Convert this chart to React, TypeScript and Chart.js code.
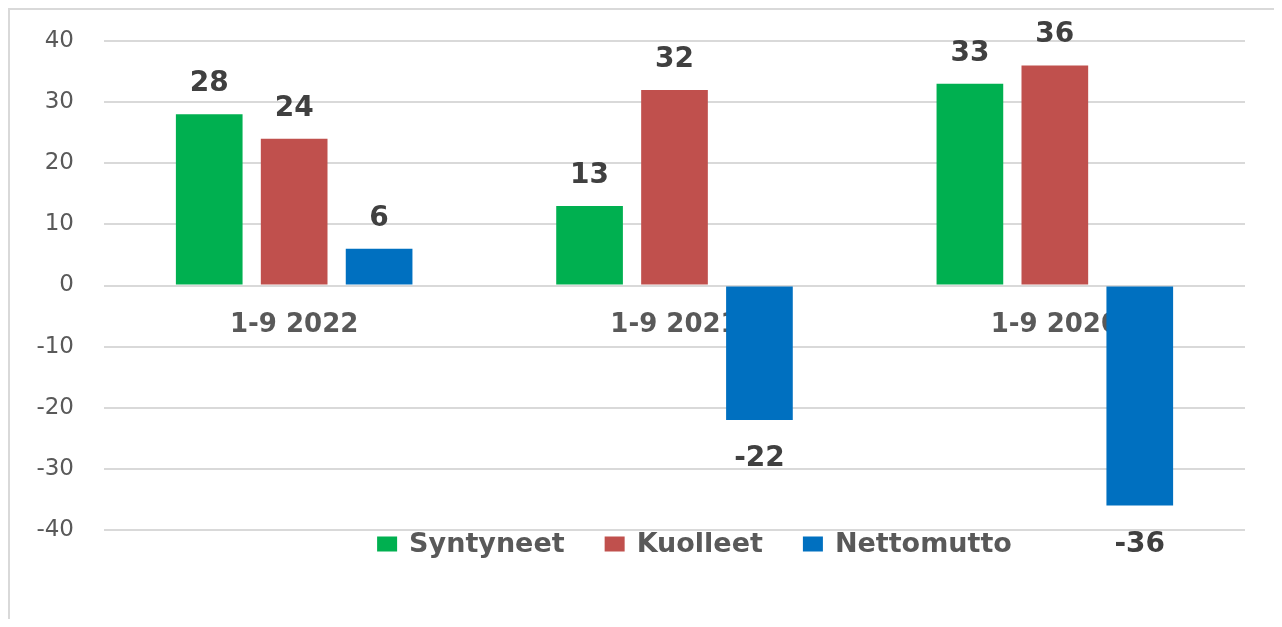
import React, { useEffect, useRef } from "react";
import { Chart, registerables } from "chart.js";

Chart.register(...registerables);

const categories = ["1-9 2022", "1-9 2021", "1-9 2020"];
const syntyneet = [28, 13, 33];
const kuolleet = [24, 32, 36];
const nettomutto = [6, -22, -36];
const seriesNames = ["Syntyneet", "Kuolleet", "Nettomutto"];
const seriesColors = ["#00b050", "#c0504d", "#0070c0"];
const yMin = -40;
const yMax = 40;
const yStep = 10;

const FONT = "'DejaVu Sans', sans-serif";

// Category labels drawn next to the zero line (below it), under the bars
const categoryLabelsPlugin = {
  id: "categoryLabels",
  beforeDatasetsDraw(chart: any) {
    const ctx = chart.ctx;
    const xs = chart.scales.x;
    const ys = chart.scales.y;
    const y0 = ys.getPixelForValue(0);
    ctx.save();
    ctx.font = `bold 26px ${FONT}`;
    ctx.fillStyle = "#595959";
    ctx.textAlign = "center";
    ctx.textBaseline = "middle";
    (chart.data.labels as string[]).forEach((lab, i) => {
      ctx.fillText(lab, xs.getPixelForValue(i), y0 + 40);
    });
    ctx.restore();
  },
};

const labelsPlugin = {
  id: "valueLabels",
  afterDatasetsDraw(chart: any) {
    const ctx = chart.ctx;
    ctx.save();
    ctx.font = `bold 28px ${FONT}`;
    ctx.fillStyle = "#404040";
    ctx.textAlign = "center";
    ctx.textBaseline = "alphabetic";
    chart.data.datasets.forEach((ds: any, di: number) => {
      const meta = chart.getDatasetMeta(di);
      meta.data.forEach((el: any, i: number) => {
        const v = ds.data[i];
        const y = v >= 0 ? el.y - 23 : el.y + 46;
        ctx.fillText(String(v), el.x, y);
      });
    });
    ctx.restore();
  },
};

const legendPlugin = {
  id: "customLegend",
  afterDraw(chart: any) {
    const ctx = chart.ctx;
    const area = chart.chartArea;
    ctx.save();
    ctx.font = `bold 27px ${FONT}`;
    const box = 20;
    const boxH = 15;
    const gapText = 12;
    const gapItem = 40;
    const items = chart.data.datasets.map((ds: any) => ({
      label: ds.label,
      color: ds.backgroundColor,
      w: box + gapText + ctx.measureText(ds.label).width,
    }));
    const total = items.reduce((s: number, it: any) => s + it.w, 0) + gapItem * (items.length - 1);
    let x = (area.left + area.right) / 2 + 20 - total / 2;
    const cy = area.bottom + 14;
    items.forEach((it: any) => {
      ctx.fillStyle = it.color;
      ctx.fillRect(x, cy - boxH / 2, box, boxH);
      ctx.fillStyle = "#595959";
      ctx.textAlign = "left";
      ctx.textBaseline = "middle";
      ctx.fillText(it.label, x + box + gapText, cy + 1);
      x += it.w + gapItem;
    });
    ctx.restore();
  },
};

export default function App() {
  const ref = useRef<HTMLCanvasElement>(null);
  useEffect(() => {
    if (!ref.current) return;
    const chart = new Chart(ref.current, {
      type: "bar",
      data: {
        labels: categories,
        datasets: [syntyneet, kuolleet, nettomutto].map((d, i) => ({
          label: seriesNames[i],
          data: d,
          backgroundColor: seriesColors[i],
          borderWidth: 0,
          categoryPercentage: 0.67,
          barPercentage: 0.785,
        })),
      },
      options: {
        animation: false,
        responsive: true,
        maintainAspectRatio: false,
        layout: { padding: { top: 31, right: 29, bottom: 97, left: 0 } },
        plugins: {
          legend: { display: false },
          tooltip: { enabled: false },
        },
        scales: {
          x: {
            display: false,
          },
          y: {
            min: yMin,
            max: yMax,
            afterFit: (scale: any) => {
              scale.width = 94;
              scale.paddingTop = 0;
              scale.paddingBottom = 0;
            },
            grid: { color: "#d9d9d9", lineWidth: 2, drawTicks: false },
            border: { display: false },
            ticks: {
              stepSize: yStep,
              color: "#595959",
              font: { family: FONT, size: 23 },
              padding: 30,
            },
          },
        },
      },
      plugins: [categoryLabelsPlugin, labelsPlugin, legendPlugin],
    });
    return () => chart.destroy();
  }, []);

  return (
    <div
      style={{
        position: "relative",
        height: 619,
        marginBottom: -8,
        borderTop: "2px solid #d9d9d9",
        borderLeft: "2px solid #d9d9d9",
        boxSizing: "border-box",
        background: "#ffffff",
      }}
    >
      <canvas ref={ref} style={{ display: "block" }} />
    </div>
  );
}
